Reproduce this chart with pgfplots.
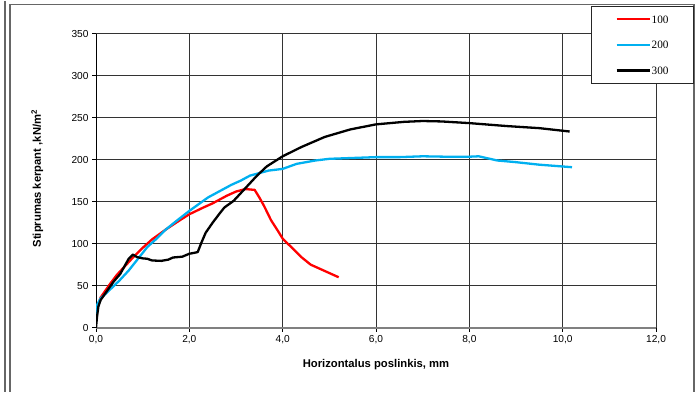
\documentclass[border=0pt]{standalone}
\usepackage{fontspec}
\setmainfont{Liberation Sans}
\newfontfamily\timesfont{Liberation Serif}
\usepackage{pgfplots}
\pgfplotsset{compat=1.18}
\definecolor{cblue}{RGB}{0,176,240}
\begin{document}
\begin{tikzpicture}[x=1bp,y=1bp]
\path (0,0) rectangle (696,391);
\draw[black!60, line width=1.3bp] (5,0) -- (5,391);
\draw[black!60, line width=1.3bp] (10,0) -- (10,387) -- (694,387) -- (694,0);
\begin{axis}[
  at={(96bp,64bp)}, anchor=south west, scale only axis,
  width=560bp, height=294bp,
  xmin=0, xmax=12, ymin=0, ymax=350,
  xtick={0,2,...,12}, ytick={0,50,...,350},
  axis lines*=left,
  x axis line style={-, black!50, line width=2bp},
  y axis line style={-, black, line width=0.8bp},
  grid=major, major grid style={black!80, line width=1bp},
  tick align=outside, major tick length=4bp,
  tick style={black, line width=0.8bp},
  /pgf/number format/assume math mode=true,
  tick label style={font=\fontsize{10.2}{11}\selectfont},
  xticklabel style={/pgf/number format/.cd, fixed, fixed zerofill, precision=1, use comma},
  yticklabel style={/pgf/number format/.cd, fixed, precision=0},
  xlabel={\bfseries Horizontalus poslinkis, mm},
  ylabel={\bfseries Stiprumas kerpant ,kN/m\textsuperscript{2}},
  label style={font=\fontsize{11.3}{12}\selectfont},
  xlabel style={at={(axis description cs:0.5,-0.126)}, anchor=center},
  ylabel style={at={(axis description cs:-0.105,0.507)}, anchor=center},
  legend image code/.code={\draw[#1] (0bp,0bp) -- (33bp,0bp);},
  legend style={at={(1.068,1.095)}, anchor=north east, draw=black!85, line width=1bp,
    fill=white, inner xsep=24bp, inner ysep=8bp, row sep=15.6bp,
    nodes={inner sep=1bp, text height=8bp, text depth=0bp},
    font=\timesfont\fontsize{11.3}{12}\selectfont},
  legend cell align=left,
]
\addplot[red, line width=2.3bp, line join=round] coordinates {
(0.03,25) (0.1,36) (0.3,52) (0.45,63) (0.6,72) (0.8,84) (1.0,95) (1.2,105)
(1.5,117) (1.8,128) (2.0,135) (2.3,143) (2.5,148) (2.8,157) (3.0,162) (3.2,165)
(3.4,164) (3.5,155) (3.6,145) (3.75,128) (3.9,115) (4.0,106) (4.2,95) (4.4,84)
(4.6,75) (4.8,70) (5.0,65) (5.2,60)};
\addlegendentry{100}
\addplot[cblue, line width=2.3bp, line join=round] coordinates {
(0,15) (0.03,28) (0.1,35) (0.2,40) (0.35,48) (0.5,56) (0.7,68) (0.9,82)
(1.1,96) (1.3,106) (1.5,117) (1.7,126) (2.0,139) (2.2,147) (2.4,155) (2.7,164)
(2.9,170) (3.1,175) (3.3,181) (3.5,184) (3.7,187) (4.0,189) (4.3,195) (4.7,199)
(5.0,201) (5.5,202) (6.0,203) (6.5,203) (7.0,204) (7.5,203.5) (8.0,203.5)
(8.2,204) (8.6,199) (9.0,197) (9.5,194) (10.2,191)};
\addlegendentry{200}
\addplot[black, line width=2.3bp, line join=round] coordinates {
(0,0) (0.02,12) (0.05,25) (0.1,33) (0.24,44) (0.38,55) (0.52,64) (0.6,72)
(0.7,82) (0.79,87) (0.88,84) (1.0,82.5) (1.1,82) (1.2,80) (1.4,79.5) (1.55,81)
(1.65,83.5) (1.85,84.5) (2.0,88) (2.1,89) (2.18,90) (2.25,100) (2.35,113)
(2.5,125) (2.65,136) (2.75,143) (2.95,151) (3.15,163) (3.3,172) (3.45,181)
(3.66,192) (4.0,204) (4.4,215) (4.9,227) (5.45,236) (6.0,242) (6.6,245)
(7.0,246) (7.4,245.5) (8.0,243.5) (8.8,240) (9.5,237.5) (10.15,233.5)};
\addlegendentry{300}
\end{axis}
\end{tikzpicture}
\end{document}
